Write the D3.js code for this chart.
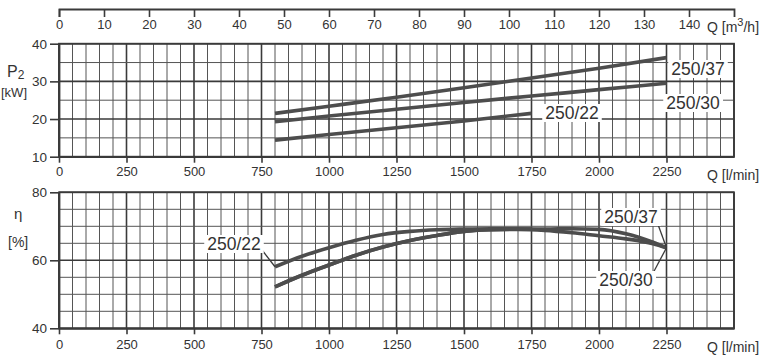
<!DOCTYPE html>
<html><head><meta charset="utf-8">
<script src="https://cdn.jsdelivr.net/npm/d3@7"></script>
<style>
body{margin:0;background:#fff}
text{font-family:"Liberation Sans",Arial,sans-serif;fill:#333}
</style>
</head><body>
<svg id="c" width="771" height="360"></svg>
<script>
// ---- data ----
const qTicksLmin = [0,250,500,750,1000,1250,1500,1750,2000,2250];
const qTicksM3h = [0,10,20,30,40,50,60,70,80,90,100,110,120,130,140];
const pTicks = [10,20,30,40];
const etaTicks = [40,60,80];

const p2Q = [800,1000,1250,1500,1750,2000,2250];
const p2_37 = [21.5,23.4,25.8,28.3,30.9,33.5,36.3];
const p2_30 = [19.3,20.8,22.6,24.4,26.1,27.8,29.5];
const p2Q22 = [800,1000,1250,1500,1750];
const p2_22 = [14.4,15.9,17.7,19.5,21.5];

const etaQ = [800,900,1000,1100,1200,1300,1400,1500,1600,1700,1800,1900,2000,2100,2200,2250];
const eta_37 = [52.2,55.6,58.6,61.5,63.9,65.8,67.3,68.5,69.0,69.2,69.2,69.3,69.1,67.8,65.3,63.7];
const eta_30 = [52.2,55.6,58.6,61.5,63.9,65.8,67.3,68.5,69.0,69.1,68.8,68.1,67.2,66.3,64.9,63.7];
const etaQ22 = [800,900,1000,1100,1200,1300,1400,1500,1600,1750];
const eta_22 = [58.1,61.2,63.7,65.9,67.6,68.5,69.0,69.2,69.3,69.2];

// ---- layout ----
const FONT = '"Liberation Sans",Arial,sans-serif';
const svg = d3.select("#c");
const L = 59, R = 734;
const x = d3.scaleLinear().domain([0,2500]).range([L,R]);
const xm = d3.scaleLinear().domain([0,150]).range([L,R]);
const yP = d3.scaleLinear().domain([10,40]).range([156.7,43.7]);
const yE = d3.scaleLinear().domain([40,80]).range([328.3,192.3]);

const ink = "#3a3a3a", gridc = "#555", curveC = "#4d4d4d";

function grid(y, vals, majors) {
  const g = svg.append("g");
  const [y0, y1] = y.range();
  d3.range(0, 2501, 50).forEach(q => {
    const maj = q % 250 === 0;
    g.append("line").attr("x1", x(q)).attr("x2", x(q)).attr("y1", y0).attr("y2", y1)
      .attr("stroke", maj ? ink : gridc).attr("stroke-width", maj ? 1.6 : 1);
  });
  vals.forEach(v => {
    const maj = majors.includes(v);
    g.append("line").attr("x1", L).attr("x2", R).attr("y1", y(v)).attr("y2", y(v))
      .attr("stroke", maj ? ink : gridc).attr("stroke-width", maj ? 1.6 : 1);
  });
  g.append("rect").attr("x", L).attr("y", y1).attr("width", R - L).attr("height", y0 - y1)
    .attr("fill", "none").attr("stroke", ink).attr("stroke-width", 1.8);
}

grid(yP, d3.range(10, 41, 5), pTicks);
grid(yE, d3.range(40, 81, 5), etaTicks);

function styleAxis(g, fs) {
  g.selectAll("path.domain").attr("stroke", ink).attr("stroke-width", 1.8);
  g.selectAll(".tick line").attr("stroke", ink).attr("stroke-width", 1.6);
  g.selectAll(".tick text").attr("fill", "#333").style("font-size", fs + "px")
    .style("font-family", FONT);
}
const fmt = d3.format("d");

const aP = svg.append("g").attr("transform", `translate(${L},0)`)
  .call(d3.axisLeft(yP).tickValues(pTicks).tickFormat(fmt).tickSize(9).tickPadding(3).tickSizeOuter(0));
styleAxis(aP, 13.5);
const aE = svg.append("g").attr("transform", `translate(${L},0)`)
  .call(d3.axisLeft(yE).tickValues(etaTicks).tickFormat(fmt).tickSize(9).tickPadding(3).tickSizeOuter(0));
styleAxis(aE, 13.5);

const bP = svg.append("g").attr("transform", `translate(0,${yP(10)})`)
  .call(d3.axisBottom(x).tickValues(qTicksLmin).tickFormat(fmt).tickSize(6).tickPadding(4).tickSizeOuter(0));
styleAxis(bP, 13);
const bE = svg.append("g").attr("transform", `translate(0,${yE(40)})`)
  .call(d3.axisBottom(x).tickValues(qTicksLmin).tickFormat(fmt).tickSize(6).tickPadding(5).tickSizeOuter(0));
styleAxis(bE, 13);

const tA = svg.append("g").attr("transform", `translate(0,9)`)
  .call(d3.axisBottom(xm).tickValues(qTicksM3h).tickFormat(fmt).tickSize(8).tickPadding(3).tickSizeOuter(8));
styleAxis(tA, 13);

// axis unit labels
svg.append("text").attr("x", 707).attr("y", 32).style("font-size", "14px")
  .html('Q [m<tspan dy="-6" font-size="11">3</tspan><tspan dy="6">/h]</tspan>');
svg.append("text").attr("x", 707).attr("y", 180).style("font-size", "14px").text("Q [l/min]");
svg.append("text").attr("x", 707).attr("y", 352).style("font-size", "14px").text("Q [l/min]");

svg.append("text").attr("x", 7).attr("y", 77).style("font-size", "16px")
  .html('P<tspan dy="2" font-size="12">2</tspan>');
svg.append("text").attr("x", 1).attr("y", 97).style("font-size", "13px").text("[kW]");
svg.append("text").attr("x", 14).attr("y", 219).style("font-size", "15px").text("η");
svg.append("text").attr("x", 8).attr("y", 247).style("font-size", "14px").text("[%]");

function curve(qs, vs, y) {
  const line = d3.line().x((d, i) => x(qs[i])).y(d => y(d)).curve(d3.curveMonotoneX);
  svg.append("path").datum(vs).attr("d", line).attr("fill", "none")
    .attr("stroke", curveC).attr("stroke-width", 3.6);
}
curve(p2Q, p2_37, yP);
curve(p2Q, p2_30, yP);
curve(p2Q22, p2_22, yP);
curve(etaQ, eta_30, yE);
curve(etaQ, eta_37, yE);
curve(etaQ22, eta_22, yE);

function label(cx, cy, t) {
  const g = svg.append("g");
  const tx = g.append("text").attr("x", cx).attr("y", cy).attr("text-anchor", "middle")
    .attr("dominant-baseline", "central").style("font-size", "17.5px").text(t);
  const b = tx.node().getBBox();
  g.insert("rect", "text").attr("x", b.x - 3).attr("y", b.y + 1).attr("width", b.width + 6)
    .attr("height", b.height - 2).attr("fill", "#fff");
}
function leader(x1, y1, x2, y2) {
  svg.append("line").attr("x1", x1).attr("y1", y1).attr("x2", x2).attr("y2", y2)
    .attr("stroke", ink).attr("stroke-width", 1.3);
}
label(698, 69, "250/37");
label(693, 103, "250/30");
label(572, 113, "250/22");

leader(262, 250, x(800), yE(eta_22[0]));
label(234, 244, "250/22");
leader(656, 219, x(2250), yE(63.7));
label(631, 217, "250/37");
leader(652, 275, x(2250), yE(63.7));
label(626, 280, "250/30");
</script>
</body></html>
